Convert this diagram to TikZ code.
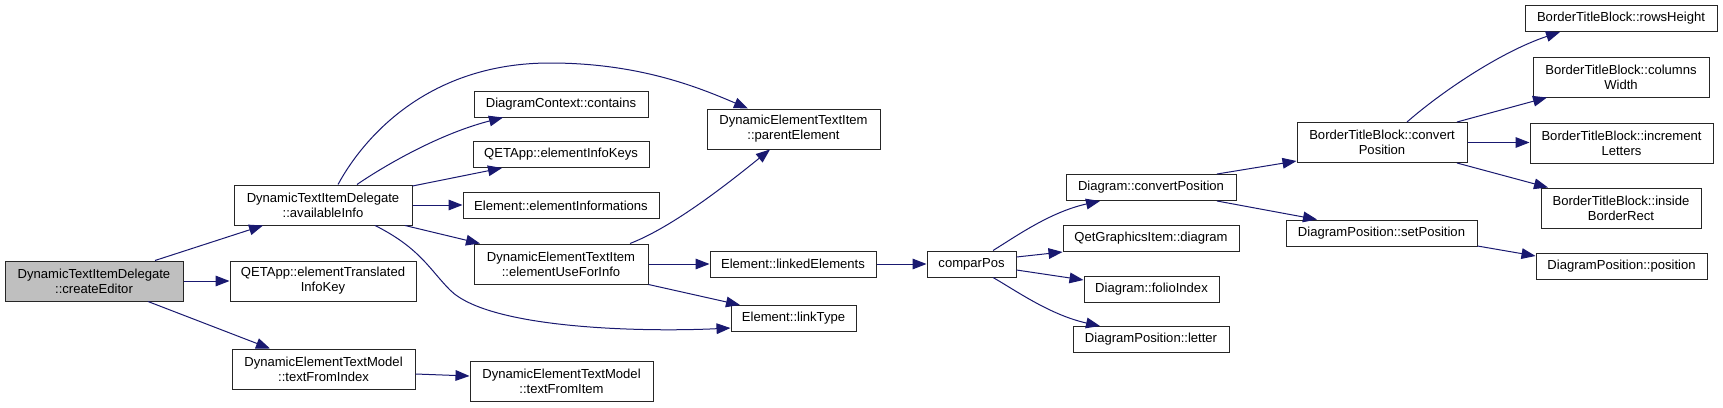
\documentclass[tikz,border=0pt]{standalone}
\usepackage{fontspec}
\setmainfont{Liberation Sans}
\usetikzlibrary{arrows.meta}
\definecolor{edgeblue}{HTML}{191970}
\definecolor{rootgray}{HTML}{BFBFBF}
\begin{document}
\begin{tikzpicture}[x=0.75pt,y=-0.75pt,
  box/.style={draw=black!85,line width=0.75pt,fill=white,inner sep=0pt,align=center,
    font=\fontsize{9.8}{11.3}\selectfont},
  sz/.style 2 args={minimum width=#1*0.75pt,minimum height=#2*0.75pt},
  edge/.style={draw=edgeblue,line width=0.75pt,-{Triangle[length=10.5pt,width=8pt]},fill=none},
]
\useasboundingbox[fill=white] (0,0) rectangle (1723,407);
% nodes
\node[box,fill=rootgray,sz={178}{40}] (ce) at (94,281) {DynamicTextItemDelegate\\::createEditor};
\node[box,sz={178}{40}] (ai) at (323,205) {DynamicTextItemDelegate\\::availableInfo};
\node[box,sz={186}{40}] (etik) at (323,281) {QETApp::elementTranslated\\InfoKey};
\node[box,sz={183}{40}] (tfi) at (323.5,369) {DynamicElementTextModel\\::textFromIndex};
\node[box,sz={174}{26}] (dcc) at (561,104) {DiagramContext::contains};
\node[box,sz={176}{26}] (eik) at (561,154.5) {QETApp::elementInfoKeys};
\node[box,sz={196}{26}] (einf) at (561,205.5) {Element::elementInformations};
\node[box,sz={174}{40}] (eufi) at (561,264) {DynamicElementTextItem\\::elementUseForInfo};
\node[box,sz={183}{40}] (tfit) at (561.5,381) {DynamicElementTextModel\\::textFromItem};
\node[box,sz={173}{40}] (pe) at (793.5,129) {DynamicElementTextItem\\::parentElement};
\node[box,sz={166}{26}] (le) at (793,264) {Element::linkedElements};
\node[box,sz={125}{26}] (lt) at (793.5,318.5) {Element::linkType};
\node[box,sz={89}{26}] (cp) at (971.5,264) {comparPos};
\node[box,sz={170}{26}] (dcp) at (1151,187.5) {Diagram::convertPosition};
\node[box,sz={176}{26}] (qgd) at (1151,238.5) {QetGraphicsItem::diagram};
\node[box,sz={135}{26}] (fi) at (1151.5,289) {Diagram::folioIndex};
\node[box,sz={156}{26}] (dpl) at (1151,339.5) {DiagramPosition::letter};
\node[box,sz={170}{40}] (btcp) at (1382,142.5) {BorderTitleBlock::convert\\Position};
\node[box,sz={191}{26}] (dpsp) at (1381.5,233) {DiagramPosition::setPosition};
\node[box,sz={192}{26}] (rh) at (1621,18.5) {BorderTitleBlock::rowsHeight};
\node[box,sz={176}{40}] (cw) at (1621,77) {BorderTitleBlock::columns\\Width};
\node[box,sz={183}{40}] (il) at (1621.5,143) {BorderTitleBlock::increment\\Letters};
\node[box,sz={160}{40}] (ibr) at (1621,208) {BorderTitleBlock::inside\\BorderRect};
\node[box,sz={171}{26}] (dpp) at (1621.5,266.5) {DiagramPosition::position};
% edges
\draw[edge] (155,0 |- ce.north) -- (263,0 |- ai.south);
\draw[edge] (ce.east) -- (ce.east -| etik.west);
\draw[edge] (148,0 |- ce.south) -- (270,0 |- tfi.north);
\draw[edge] (357,0 |- ai.north) .. controls (378,170) and (435,135) .. (503,0 |- dcc.south);
\draw[edge] (ai.east |- 0,186) -- (502,0 |- eik.south);
\draw[edge] (ai.east) -- (ai.east -| einf.west);
\draw[edge] (338,0 |- ai.north) .. controls (365,135) and (430,63) .. (550,63)
  .. controls (640,63) and (700,88) .. (748,0 |- pe.north);
\draw[edge] (405,0 |- ai.south) -- (480,0 |- eufi.north);
\draw[edge] (375,0 |- ai.south) .. controls (420,248) and (430,270) .. (450,290)
  .. controls (490,330) and (650,332) .. (lt.west |- 0,328);
\draw[edge] (630,0 |- eufi.north) .. controls (670,228) and (720,190) .. (770,0 |- pe.south);
\draw[edge] (eufi.east) -- (eufi.east -| le.west);
\draw[edge] (eufi.south east) -- (740,0 |- lt.north);
\draw[edge] (le.east) -- (le.east -| cp.west);
\draw[edge] (tfi.east |- 0,374) -- (tfit.west |- 0,376);
\draw[edge] (993,0 |- cp.north) .. controls (1015,237) and (1050,212) .. (1100,0 |- dcp.south);
\draw[edge] (cp.east |- 0,257) -- (qgd.south west);
\draw[edge] (cp.east |- 0,270) -- (fi.west |- 0,280);
\draw[edge] (993,0 |- cp.south) .. controls (1015,290) and (1050,315) .. (1100,0 |- dpl.north);
\draw[edge] (1217,0 |- dcp.north) -- (btcp.west |- 0,161);
\draw[edge] (1217,0 |- dcp.south) -- (1317,0 |- dpsp.north);
\draw[edge] (1407,0 |- btcp.north) .. controls (1440,93) and (1500,52) .. (1560,0 |- rh.south);
\draw[edge] (1457,0 |- btcp.north) -- (1547,0 |- cw.south);
\draw[edge] (btcp.east) -- (btcp.east -| il.west);
\draw[edge] (1457,0 |- btcp.south) -- (1548,0 |- ibr.north);
\draw[edge] (dpsp.east |- 0,246) -- (dpp.west |- 0,256);
\end{tikzpicture}
\end{document}
